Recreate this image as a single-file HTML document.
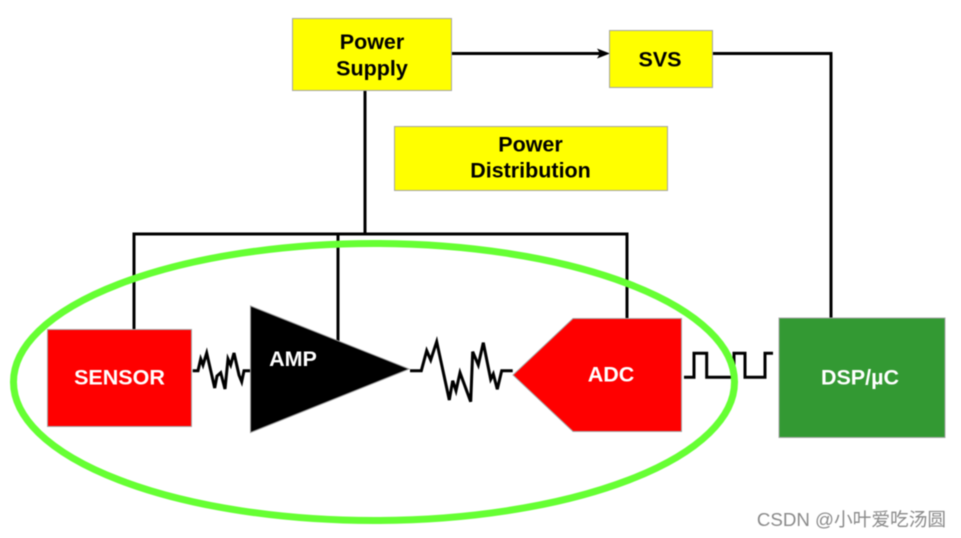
<!DOCTYPE html>
<html>
<head>
<meta charset="utf-8">
<style>
html,body{margin:0;padding:0;background:#fff;width:961px;height:538px;overflow:hidden}
svg{display:block;filter:blur(0.4px)}
text{font-family:"Liberation Sans",Arial,sans-serif;font-weight:bold;font-size:21.500px;text-anchor:middle}
.b{fill:#000}
.w{fill:#fff}
</style>
</head>
<body>
<svg width="961" height="538" viewBox="0 0 961 538" xmlns="http://www.w3.org/2000/svg">
<rect width="961" height="538" fill="#fff"/>
<g fill="none" stroke="#000" stroke-width="3">
<path d="M365 90V234"/>
<path d="M134 330V234H627V320"/>
<path d="M338 234V345"/>
<path d="M452 53.500H605"/>
<path d="M712 53.500H831V318"/>
<path stroke-linejoin="miter" d="M192.700 370.700H198L200.700 359L203 365L206.700 353L214.700 388L217 376L220.700 372.700L225 389L228 359L230.700 365L234 353L239 375L241.700 381.700L244 370.700H250.700"/>
<path d="M410 370.700H421.300L426.700 350.700L430.700 360L436.700 341.700L449.300 400L452.700 380.700L456 390.700L460 372.700L470.700 401.700L472.700 351.700L478.300 365L483.300 342.700L490.700 379.300L493.300 374L497.300 389.300L501.700 370.700H512.700"/>
<path d="M684 377.300H694V353.300H706.700V377.300H734V353.300H745V377.300H765V353.300H773"/>
</g>
<path d="M610 53.500L597 48.500L600 53.500L597 58.500Z" fill="#000"/>
<g stroke="#a6a6a6" stroke-width="1">
<rect x="292.500" y="18.500" width="159" height="72" fill="#ffff00"/>
<rect x="609.500" y="30.500" width="103" height="57" fill="#ffff00"/>
<rect x="394.500" y="126.500" width="273" height="64" fill="#ffff00"/>
<rect x="47.500" y="329.500" width="144" height="97" fill="#ff0000"/>
<path d="M250.500 306L409 369L250.500 432.500Z" fill="#000" stroke="#999"/>
<path d="M573 318.500H681.500V431.500H573L513 375Z" fill="#ff0000"/>
<rect x="779" y="318" width="166" height="119.500" fill="#339933"/>
</g>
<ellipse cx="374" cy="382" rx="360.500" ry="138.500" fill="none" stroke="#66ff33" stroke-width="7"/>
<text class="b" x="372" y="49">Power</text>
<text class="b" x="372" y="75.500">Supply</text>
<text class="b" x="660" y="66.500">SVS</text>
<text class="b" x="530.500" y="151.500">Power</text>
<text class="b" x="530.500" y="177.500">Distribution</text>
<text class="w" x="119.500" y="384.500">SENSOR</text>
<text class="w" x="293" y="366">AMP</text>
<text class="w" x="611" y="381.500">ADC</text>
<text class="w" x="860" y="384.500">DSP/µC</text>
<text x="851.500" y="526" style="font-family:'Liberation Sans','Noto Sans CJK SC',sans-serif;font-weight:normal;font-size:18.700px;fill:#8a8a8a">CSDN @小叶爱吃汤圆</text>
</svg>
</body>
</html>
